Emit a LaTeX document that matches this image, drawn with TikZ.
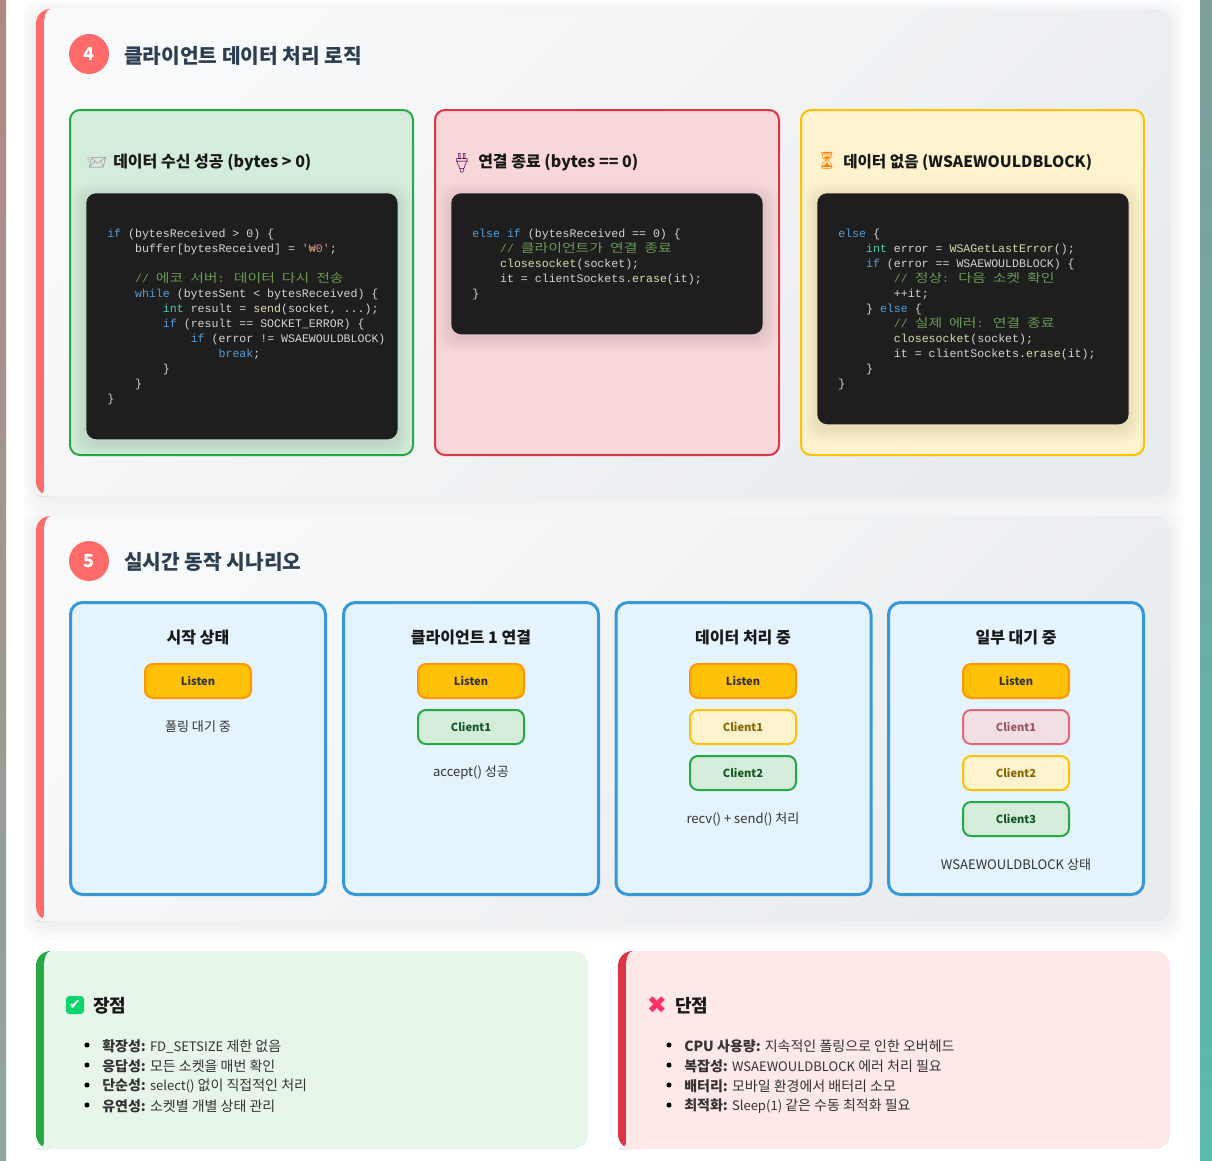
\documentclass[tikz,border=0pt]{standalone}
\usepackage{fontspec}
\setmainfont{Noto Sans CJK KR}
\newfontfamily\codelat{Liberation Mono}
\newfontfamily\codekr[FakeStretch=1.24]{Noto Sans CJK KR}
\newfontfamily\emojifont{Noto Emoji}
\newfontfamily\symfont{DejaVu Sans}
\usetikzlibrary{positioning}
\definecolor{coral}{HTML}{FF6B6B}
\definecolor{darktitle}{HTML}{2C3E50}
\definecolor{okfill}{HTML}{D4EDDA}
\definecolor{okline}{HTML}{28A745}
\definecolor{oktext}{HTML}{155724}
\definecolor{badfill}{HTML}{F8D7DA}
\definecolor{badline}{HTML}{DC3545}
\definecolor{badtext}{HTML}{721C24}
\definecolor{waitfill}{HTML}{FFF3CD}
\definecolor{waitline}{HTML}{FFC107}
\definecolor{waittext}{HTML}{856404}
\definecolor{listenline}{HTML}{FF9800}
\definecolor{codebg}{HTML}{1E1E1E}
\definecolor{cplain}{HTML}{D4D4D4}
\definecolor{ckey}{HTML}{569CD6}
\definecolor{ctype}{HTML}{4EC9B0}
\definecolor{cfunc}{HTML}{DCDCAA}
\definecolor{ccom}{HTML}{6A9955}
\definecolor{cstr}{HTML}{CE9178}
\definecolor{panelblue}{HTML}{E5F3FD}
\definecolor{panelline}{HTML}{3498DB}
\definecolor{cardlight}{HTML}{F8F9FA}
\definecolor{carddark}{HTML}{E9ECEF}
\definecolor{prosfill}{HTML}{E8F5E9}
\definecolor{consfill}{HTML}{FFE8E8}
\definecolor{proscheck}{HTML}{0BD46E}
\definecolor{conscross}{HTML}{FF2E63}
\definecolor{lefttop}{HTML}{B08882}
\definecolor{leftbot}{HTML}{8FA6A1}
\definecolor{righttop}{HTML}{7FA09A}
\definecolor{rightbot}{HTML}{59B9AD}
\newlength{\cw}
\setlength{\cw}{5.22pt}
\newcommand{\ind}[1]{\hspace*{#1\cw}}
\newcommand{\kw}[1]{\textcolor{ckey}{#1}}
\newcommand{\ty}[1]{\textcolor{ctype}{#1}}
\newcommand{\fn}[1]{\textcolor{cfunc}{#1}}
\newcommand{\st}[1]{\textcolor{cstr}{#1}}
\newcommand{\km}[1]{\textcolor{ccom}{{\codekr\fontsize{9}{11.25}\selectfont #1}}}
\newcommand{\cm}[1]{\textcolor{ccom}{#1}}
\newcommand{\lat}[1]{{\fontsize{9.8}{13}\selectfont #1}}
\tikzset{
  x=0.75pt, y=-0.75pt,
  sectitle/.style={anchor=west, inner sep=0pt, text=darktitle, font=\fontsize{15.2}{18}\selectfont\bfseries},
  secnum/.style={circle, fill=coral, text=white, minimum size=30pt, inner sep=0pt, font=\fontsize{13.5}{16}\selectfont\bfseries},
  casebox/.style={draw, line width=1.5pt, rounded corners=7.5pt, minimum width=#1*0.75pt, minimum height=258.75pt, anchor=north west, inner sep=0pt},
  casetitle/.style={anchor=west, inner sep=0pt, text=black!90, font=\fontsize{12}{15}\selectfont\bfseries},
  caseicon/.style={inner sep=0pt, font=\emojifont\fontsize{12.5}{14}\selectfont},
  codebox/.style={fill=codebg, rounded corners=7.5pt, anchor=north west, inner sep=0pt, minimum width=233.5pt},
  codetext/.style={anchor=north west, inner sep=0pt, align=left, text=cplain, font=\codelat\fontsize{8.69}{11.25}\selectfont},
  panelbox/.style={draw=panelline, fill=panelblue, line width=2.25pt, rounded corners=9pt, anchor=north west, inner sep=0pt, minimum width=191.25pt, minimum height=219pt},
  paneltitle/.style={inner sep=0pt, text=black!90, font=\fontsize{12}{15}\selectfont\bfseries},
  sockbox/.style={line width=1.5pt, rounded corners=6pt, minimum width=79.5pt, minimum height=25.5pt, inner sep=0pt, font=\fontsize{8.3}{11}\selectfont\bfseries},
  listensock/.style={sockbox, draw=listenline, fill=waitline, text=black!80},
  activesock/.style={sockbox, draw=okline, fill=okfill, text=oktext},
  waitsock/.style={sockbox, draw=waitline, fill=waitfill, text=waittext},
  closedsock/.style={sockbox, draw=badline, fill=badfill, text=badtext, opacity=0.7},
  sockcap/.style={inner sep=0pt, text=black!80, font=\fontsize{9.8}{11}\selectfont},
  sumtitle/.style={anchor=west, inner sep=0pt, text=black!90, font=\fontsize{13.5}{16}\selectfont\bfseries},
  sumitem/.style={anchor=west, inner sep=0pt, text=black!80, font=\fontsize{10.5}{13}\selectfont},
  sumdot/.style={circle, fill=black, minimum size=3.8pt, inner sep=0pt},
}
% soft shadow and the card with its thick left edge
\newcommand{\softshadow}[5]{%
  \foreach \g in {1,...,7}
    \fill[black, opacity=#5, rounded corners=12pt]
      (#1-\g*2, #2+4-\g*2) rectangle (#3+\g*2, #4+4+\g*2);
}
\newcommand{\edgecard}[6]{%
  \fill[#5] (#1+15,#2) [rounded corners=11pt] -- (#1,#2) -- (#1,#4) -- (#1+15,#4) [sharp corners] -- cycle;
  \path[#6] (#1+15,#2) [rounded corners=11pt] -- (#3,#2) -- (#3,#4) -- (#1+15,#4) [sharp corners]
    .. controls (#1+10,#4) and (#1+8,#4-8) .. (#1+8,#4-15)
    -- (#1+8,#2+15) .. controls (#1+8,#2+8) and (#1+10,#2) .. (#1+15,#2) -- cycle;
}
\begin{document}
\begin{tikzpicture}
  \useasboundingbox (0,0) rectangle (1212,1160);
  \fill[white] (0,0) rectangle (1212,1160);
  % page edges
  \shade[top color=lefttop, bottom color=leftbot] (0,0) rectangle (6,1160);
  \shade[top color=righttop, bottom color=rightbot] (1200,0) rectangle (1212,1160);

  % section 4
  \softshadow{36}{9}{1170}{496}{0.007}
  \edgecard{36}{9}{1170}{496}{coral}{top color=cardlight, bottom color=carddark, shading angle=45}
  \node[secnum] (num4) at (89,54) {4};
  \node[sectitle] (title4) at (124,55.5) {클라이언트 데이터 처리 로직};

  \node[casebox=343, draw=okline, fill=okfill] (recvbox) at (69,109) {};
  \node[casebox=344, draw=badline, fill=badfill] (closebox) at (434,109) {};
  \node[casebox=343, draw=waitline, fill=waitfill] (nodatabox) at (800,109) {};

  \node[caseicon, text=violet!30!gray!70!white] (recvicon) at (97,163) {📨};
  \node[casetitle] (recvtitle) at (113,162.2) {데이터 수신 성공 (bytes > 0)};
  \node[caseicon, rotate=-45, text=violet!70!black] (closeicon) at (462,162) {🔌};
  \node[casetitle] (closetitle) at (478,162.2) {연결 종료 (bytes == 0)};
  \node[caseicon, text=orange] (waiticon) at (827,161) {⏳};
  \node[casetitle, font=\fontsize{11.7}{15}\selectfont\bfseries] (waittitle) at (843,162.2) {데이터 없음 (WSAEWOULDBLOCK)};

  \softshadow{86}{193}{397}{439}{0.012}
  \softshadow{451}{193}{763}{334}{0.012}
  \softshadow{817}{193}{1128}{424}{0.012}
  \node[codebox, minimum height=184.5pt] (recvcode) at (86,193) {};
  \node[codebox, minimum height=105.75pt] (closecode) at (451,193) {};
  \node[codebox, minimum height=173.25pt] (waitcode) at (817,193) {};

  \node[codetext] (recvlines) at (107,229) {%
    \kw{if} (bytesReceived > 0) \{\\
    \ind{4}buffer[bytesReceived] = \st{'₩0'};\\
    \mbox{}\\
    \ind{4}\cm{// }\km{에코}\ \km{서버}\cm{: }\km{데이터}\ \km{다시}\ \km{전송}\\
    \ind{4}\kw{while} (bytesSent < bytesReceived) \{\\
    \ind{8}\ty{int} result = \fn{send}(socket, ...);\\
    \ind{8}\kw{if} (result == SOCKET\_ERROR) \{\\
    \ind{12}\kw{if} (error != WSAEWOULDBLOCK)\\
    \ind{16}\kw{break};\\
    \ind{8}\}\\
    \ind{4}\}\\
    \}};
  \node[codetext] (closelines) at (472,229) {%
    \kw{else if} (bytesReceived == 0) \{\\
    \ind{4}\cm{// }\km{클라이언트가}\ \km{연결}\ \km{종료}\\
    \ind{4}\fn{closesocket}(socket);\\
    \ind{4}it = clientSockets.\fn{erase}(it);\\
    \}};
  \node[codetext] (waitlines) at (838,229) {%
    \kw{else} \{\\
    \ind{4}\ty{int} error = \fn{WSAGetLastError}();\\
    \ind{4}\kw{if} (error == WSAEWOULDBLOCK) \{\\
    \ind{8}\cm{// }\km{정상}\cm{: }\km{다음}\ \km{소켓}\ \km{확인}\\
    \ind{8}++it;\\
    \ind{4}\} \kw{else} \{\\
    \ind{8}\cm{// }\km{실제}\ \km{에러}\cm{: }\km{연결}\ \km{종료}\\
    \ind{8}\fn{closesocket}(socket);\\
    \ind{8}it = clientSockets.\fn{erase}(it);\\
    \ind{4}\}\\
    \}};

  % section 5
  \softshadow{36}{516}{1170}{921}{0.007}
  \edgecard{36}{516}{1170}{921}{coral}{top color=cardlight, bottom color=carddark, shading angle=45}
  \node[secnum] (num5) at (89,561) {5};
  \node[sectitle] (title5) at (124,561.5) {실시간 동작 시나리오};

  \node[panelbox] (panelstart) at (69,601) {};
  \node[panelbox] (panelconn) at (342,601) {};
  \node[panelbox] (paneldata) at (614.5,601) {};
  \node[panelbox] (panelwait) at (887,601) {};

  \node[paneltitle] (tstart) at (198,638) {시작 상태};
  \node[paneltitle] (tconn) at (471,638) {클라이언트 1 연결};
  \node[paneltitle] (tdata) at (743,638) {데이터 처리 중};
  \node[paneltitle] (twait) at (1016,638) {일부 대기 중};

  \node[listensock] (listen1) at (198,681) {Listen};
  \node[sockcap] (cap1) at (198,727) {폴링 대기 중};

  \node[listensock] (listen2) at (471,681) {Listen};
  \node[activesock] (c21) at (471,727) {Client1};
  \node[sockcap] (cap2) at (471,773) {accept() 성공};

  \node[listensock] (listen3) at (743,681) {Listen};
  \node[waitsock] (c31) at (743,727) {Client1};
  \node[activesock] (c32) at (743,773) {Client2};
  \node[sockcap] (cap3) at (743,819) {recv() + send() 처리};

  \node[listensock] (listen4) at (1016,681) {Listen};
  \node[closedsock] (c41) at (1016,727) {Client1};
  \node[waitsock] (c42) at (1016,773) {Client2};
  \node[activesock] (c43) at (1016,819) {Client3};
  \node[sockcap] (cap4) at (1016,865) {WSAEWOULDBLOCK 상태};

  % pros and cons
  \edgecard{36}{951}{588}{1149}{okline}{fill=prosfill}
  \edgecard{618}{951}{1170}{1149}{badline}{fill=consfill}

  \node[fill=proscheck, rounded corners=2.5pt, minimum size=13.5pt, inner sep=0pt, text=white, font=\symfont\fontsize{10.5}{10}\selectfont] (prosicon) at (75,1005) {✔};
  \node[sumtitle] (prostitle) at (93,1005.5) {장점};
  \node[inner sep=0pt, text=conscross, font=\symfont\fontsize{18}{18}\selectfont] (consicon) at (657,1005) {✖};
  \node[sumtitle] (constitle) at (675,1005.5) {단점};

  \foreach \i/\yy/\head/\rest in {
    1/1045/확장성:/\lat{FD\_SETSIZE} 제한 없음,
    2/1065/응답성:/모든 소켓을 매번 확인,
    3/1085/단순성:/\lat{select()} 없이 직접적인 처리,
    4/1105/유연성:/소켓별 개별 상태 관리} {
    \node[sumdot] (prosdot\i) at (87,\yy) {};
    \node[sumitem] (prositem\i) at (102,\yy+1) {\textbf{\head} \rest};
  }
  \foreach \i/\yy/\head/\rest in {
    1/1045/CPU 사용량:/지속적인 폴링으로 인한 오버헤드,
    2/1065/복잡성:/\lat{WSAEWOULDBLOCK} 에러 처리 필요,
    3/1085/배터리:/모바일 환경에서 배터리 소모,
    4/1105/최적화:/\lat{Sleep(1)} 같은 수동 최적화 필요} {
    \node[sumdot] (consdot\i) at (669,\yy) {};
    \node[sumitem] (consitem\i) at (684,\yy+1) {\textbf{\head} \rest};
  }
\end{tikzpicture}
\end{document}
